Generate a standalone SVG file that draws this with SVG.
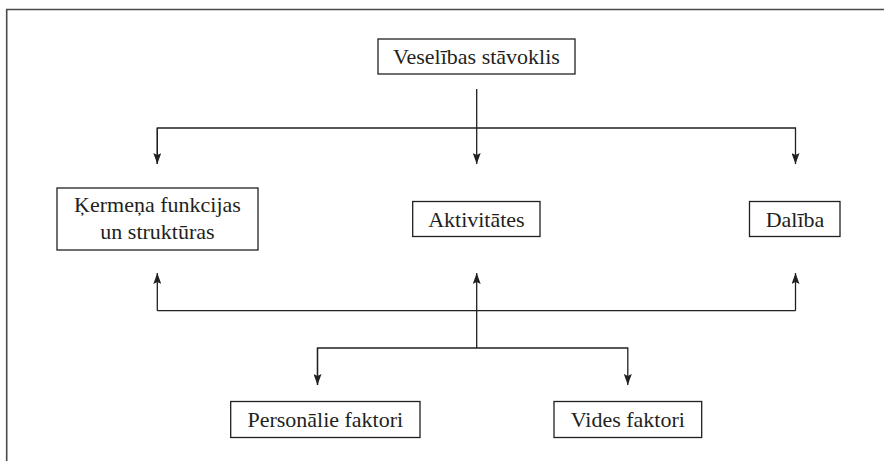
<svg xmlns="http://www.w3.org/2000/svg" width="884" height="461" viewBox="0 0 884 461">
<defs>
<marker id="ah" viewBox="0 0 11 8" refX="11" refY="4" markerWidth="11" markerHeight="8" markerUnits="userSpaceOnUse" orient="auto">
<path d="M0,0 L11,4 L0,8 L2,4 Z" fill="#231f20"/>
</marker>
<style>
.box{fill:#fff;stroke:#231f20;stroke-width:1.3}
.lbl{font-family:"Liberation Serif","Times New Roman",serif;font-size:22px;fill:#231f20;text-anchor:middle}
.con{fill:none;stroke:#231f20;stroke-width:1.3}
</style>
</defs>
<rect width="884" height="461" fill="#fff"/>
<path d="M6.7,470 V9.5 H890" fill="none" stroke="#4a4a4a" stroke-width="1.6"/>
<g id="connectors">
<path class="con" d="M476.7,89 V164" marker-end="url(#ah)"/>
<path class="con" d="M157.3,164 V128 H795.5 V164" marker-end="url(#ah)"/>
<path class="con" d="M157.3,128 V164" marker-end="url(#ah)"/>
<path class="con" d="M157.3,310.7 H795.5"/>
<path class="con" d="M157.3,310.7 V273" marker-end="url(#ah)"/>
<path class="con" d="M795.5,310.7 V273" marker-end="url(#ah)"/>
<path class="con" d="M476.7,348 V273" marker-end="url(#ah)"/>
<path class="con" d="M317.5,385 V348 H627.8 V385" marker-end="url(#ah)"/>
<path class="con" d="M317.5,348 V385" marker-end="url(#ah)"/>
</g>
<g id="n-veselibas">
<rect class="box" x="378" y="39" width="197" height="35"/>
<text class="lbl" x="476.5" y="63.5">Veselības stāvoklis</text>
</g>
<g id="n-kermena">
<rect class="box" x="57" y="188" width="201" height="62"/>
<text class="lbl" x="157.5" y="212">Ķermeņa funkcijas</text>
<text class="lbl" x="157.5" y="238.5">un struktūras</text>
</g>
<g id="n-aktivitates">
<rect class="box" x="412.7" y="201.5" width="127.3" height="35"/>
<text class="lbl" x="476.4" y="226.5">Aktivitātes</text>
</g>
<g id="n-daliba">
<rect class="box" x="749.5" y="201.5" width="90.5" height="35"/>
<text class="lbl" x="795" y="226.5">Dalība</text>
</g>
<g id="n-personalie">
<rect class="box" x="230.7" y="401.5" width="189.3" height="36"/>
<text class="lbl" x="325.3" y="426.5">Personālie faktori</text>
</g>
<g id="n-vides">
<rect class="box" x="554" y="401.5" width="147.7" height="36"/>
<text class="lbl" x="627.8" y="426.5">Vides faktori</text>
</g>
</svg>
